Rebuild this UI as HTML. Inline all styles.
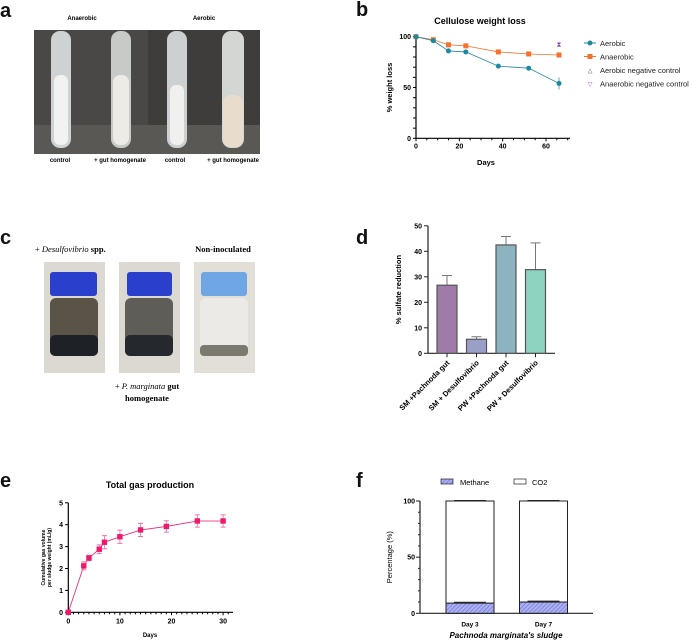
<!DOCTYPE html>
<html><head><meta charset="utf-8"><style>
body{margin:0;background:#fff;}
svg{display:block;font-family:"Liberation Sans",sans-serif;}
</style></head><body>
<svg id="fig" width="700" height="642" viewBox="0 0 700 642">
<defs>
<pattern id="hatch" width="3" height="3" patternUnits="userSpaceOnUse" patternTransform="rotate(45)">
<rect width="3" height="3" fill="#aab0f0"/><line x1="0" y1="0" x2="0" y2="3" stroke="#6a70d8" stroke-width="1.2"/></pattern>
</defs>
<g font-weight="bold" font-size="20" fill="#111">
<text x="0" y="17">a</text>
<text x="356" y="16">b</text>
<text x="0" y="244">c</text>
<text x="356" y="244">d</text>
<text x="0" y="487">e</text>
<text x="356" y="487">f</text>
</g>
<g>
<text x="82" y="20" font-size="6" font-weight="bold" text-anchor="middle">Anaerobic</text>
<text x="204" y="20" font-size="6" font-weight="bold" text-anchor="middle">Aerobic</text>
<rect x="34" y="30" width="114" height="124" fill="#4a4846"/>
<rect x="148" y="30" width="112" height="124" fill="#3e3d3b"/>
<rect x="34" y="125" width="226" height="29" fill="#5a5855"/>
<rect x="51" y="31" width="20" height="117" rx="9" fill="#cfd2d2"/>
<rect x="54" y="75" width="14" height="70" rx="6" fill="#f2f2f0"/>
<rect x="111" y="31" width="20" height="117" rx="9" fill="#c8cac8"/>
<rect x="113" y="75" width="16" height="70" rx="7" fill="#ecebe6"/>
<rect x="167" y="31" width="20" height="117" rx="9" fill="#cdd0d0"/>
<rect x="170" y="85" width="14" height="60" rx="6" fill="#f0f0ee"/>
<rect x="222" y="31" width="22" height="117" rx="9" fill="#d4d6d4"/>
<rect x="223" y="95" width="20" height="52" rx="8" fill="#e8ddcc"/>
<g font-size="6" font-weight="bold" text-anchor="middle">
<text x="60" y="162">control</text>
<text x="120" y="162">+ gut homogenate</text>
<text x="175" y="162">control</text>
<text x="233" y="162">+ gut homogenate</text>
</g></g>
<g font-family="'Liberation Serif',serif" font-size="8.5">
<text x="35" y="252">+ <tspan font-style="italic">Desulfovibrio</tspan> <tspan font-weight="bold">spp.</tspan></text>
<text x="223" y="252" text-anchor="middle" font-weight="bold">Non-inoculated</text>
<text x="147" y="389" text-anchor="middle">+ <tspan font-style="italic">P. marginata</tspan> <tspan font-weight="bold">gut</tspan></text>
<text x="147" y="401" text-anchor="middle" font-weight="bold">homogenate</text>
<g><rect x="44" y="262" width="61" height="111" fill="#dcd8d2"/><rect x="50" y="298" width="48" height="58" rx="6" fill="#5a5448"/><rect x="50" y="335" width="48" height="21" rx="5" fill="#1e2226"/><rect x="50" y="272" width="47" height="24" rx="3" fill="#2a3fcc"/></g>
<g><rect x="119" y="262" width="61" height="111" fill="#dcd8d2"/><rect x="125" y="298" width="48" height="58" rx="6" fill="#5f5d58"/><rect x="125" y="335" width="48" height="21" rx="5" fill="#25282c"/><rect x="127" y="272" width="45" height="24" rx="3" fill="#2a3fcc"/></g>
<g><rect x="194" y="262" width="61" height="111" fill="#e2ded8"/><rect x="200" y="298" width="48" height="58" rx="6" fill="#eceae6"/><rect x="200" y="345" width="48" height="11" rx="4" fill="#7a7a6e"/><rect x="201" y="272" width="46" height="24" rx="3" fill="#6fa6e4"/></g>
</g>
<g id="b"></g>
<g id="d"></g>
<g id="e"></g>
<g id="f"></g>
</svg>
<script>
const NS="http://www.w3.org/2000/svg";
function mk(p,t,a,txt){const e=document.createElementNS(NS,t);for(const k in a)e.setAttribute(k,a[k]);if(txt!==undefined)e.textContent=txt;p.appendChild(e);return e;}
const bDays=[0,8,15,23,38,52,66];
const bAerobic=[100,96,86,85,71,69,54];
const bAerobicErr=[0,1,1,1,1,1,6];
const bAnaerobic=[100,97,92,91,85,83,82];
const bAnaerobicErr=[0,1,1,1,1,1,2];
const bControlDay=66;
const bControlVal=[93,93];
const bXTicks=[0,20,40,60];
const bYTicks=[0,50,100];
const dCats=["SM +Pachnoda gut","SM + Desulfovibrio","PW +Pachnoda gut","PW + Desulfovibrio"];
const dVals=[26.7,5.5,42.5,32.8];
const dErr=[3.8,1.0,3.3,10.5];
const dYTicks=[0,10,20,30,40,50];
const eDays=[0,3,4,6,7,10,14,19,25,30];
const eVals=[0,2.12,2.48,2.88,3.2,3.45,3.76,3.92,4.17,4.17];
const eErr=[0,0.18,0.12,0.2,0.3,0.3,0.3,0.26,0.28,0.28];
const eXTicks=[0,10,20,30];
const eYTicks=[0,1,2,3,4,5];
const fCats=["Day 3","Day 7"];
const fMethane=[9,10];
const fCO2=[91,90];
const fYTicks=[0,50,100];

(function(){
const g=document.getElementById('b');
const x=d=>416+d*2.167, y=v=>138.3-v*1.016;
mk(g,'text',{x:480,y:24,'font-size':9,'font-weight':'bold','text-anchor':'middle'},'Cellulose weight loss');
mk(g,'line',{x1:416,y1:y(100),x2:416,y2:y(0),stroke:'#000','stroke-width':1.2});
mk(g,'line',{x1:416,y1:y(0),x2:570,y2:y(0),stroke:'#000','stroke-width':1.2});
for(let d=0;d<=70;d+=5){mk(g,'line',{x1:x(d),y1:y(0),x2:x(d),y2:y(0)+(d%20==0?3:2),stroke:'#000'});}
for(let v=0;v<=100;v+=10){mk(g,'line',{x1:416,y1:y(v),x2:413,y2:y(v),stroke:'#000'});}
bXTicks.forEach(t=>{const e=mk(g,'text',{x:x(t),y:y(0)+10,'font-size':7,'font-weight':'bold','text-anchor':'middle'},t);});
bYTicks.forEach(t=>{const e=mk(g,'text',{x:411,y:y(t)+2.5,'font-size':7,'font-weight':'bold','text-anchor':'end'},t);});
mk(g,'text',{x:486,y:165,'font-size':7.5,'font-weight':'bold','text-anchor':'middle'},'Days');
mk(g,'text',{x:392,y:y(50),'font-size':7.5,'font-weight':'bold','text-anchor':'middle',transform:`rotate(-90 392 ${y(50)})`},'% weight loss');
function series(vals,err,col,sq,name){
 mk(g,'polyline',{points:bDays.map((d,i)=>x(d)+','+y(vals[i])).join(' '),fill:'none',stroke:col,'stroke-width':0.8});
 bDays.forEach((d,i)=>{ if(err[i]>1){mk(g,'line',{x1:x(d),y1:y(vals[i]+err[i]),x2:x(d),y2:y(vals[i]-err[i]),stroke:col,'stroke-width':0.7});}
  const m=sq?mk(g,'rect',{x:x(d)-2.5,y:y(vals[i])-2.5,width:5,height:5,fill:col}):mk(g,'circle',{cx:x(d),cy:y(vals[i]),r:2.5,fill:col});
  });
}
series(bAnaerobic,bAnaerobicErr,'#f6712a',true,'anaerobic');
series(bAerobic,bAerobicErr,'#1b8a9e',false,'aerobic');
mk(g,'text',{x:x(bControlDay),y:y(bControlVal[0])+2.5,'font-size':7,fill:'#8a3fb0','text-anchor':'middle'},'⧗');
const leg=[['Aerobic','#1b8a9e','c'],['Anaerobic','#f6712a','s'],['Aerobic negative control','#555','t'],['Anaerobic negative control','#a050d0','v']];
leg.forEach((l,i)=>{const yy=43+i*13.5;const lg=mk(g,'g',{});
 if(l[2]=='c'||l[2]=='s'){mk(lg,'line',{x1:584,y1:yy,x2:596,y2:yy,stroke:l[1]});}
 if(l[2]=='c')mk(lg,'circle',{cx:590,cy:yy,r:2.5,fill:l[1]});
 if(l[2]=='s')mk(lg,'rect',{x:587.5,y:yy-2.5,width:5,height:5,fill:l[1]});
 if(l[2]=='t')mk(lg,'text',{x:590,y:yy+2.5,'font-size':6,fill:l[1],'text-anchor':'middle'},'△');
 if(l[2]=='v')mk(lg,'text',{x:590,y:yy+2.5,'font-size':6,fill:l[1],'text-anchor':'middle'},'▽');
 mk(lg,'text',{x:600,y:yy+3,'font-size':7.5,fill:'#222'},l[0]);});
})();
(function(){
const g=document.getElementById('d');
const y=v=>353.3-v*2.55, xc=i=>447+i*29.5;
const cols=['#a07aa8','#9a9fc8','#8db3c0','#8dd3c0'];
mk(g,'line',{x1:428,y1:y(50),x2:428,y2:y(0),stroke:'#222','stroke-width':1.2});
mk(g,'line',{x1:428,y1:y(0),x2:555,y2:y(0),stroke:'#222','stroke-width':1.2});
dYTicks.forEach(t=>{mk(g,'line',{x1:428,y1:y(t),x2:424,y2:y(t),stroke:'#222'});
 const e=mk(g,'text',{x:422,y:y(t)+2.5,'font-size':7,'font-weight':'bold','text-anchor':'end'},t);});
mk(g,'text',{x:401,y:y(25),'font-size':7.5,'font-weight':'bold','text-anchor':'middle',transform:`rotate(-90 401 ${y(25)})`},'% sulfate reduction');
dCats.forEach((c,i)=>{
 mk(g,'line',{x1:xc(i),y1:y(dVals[i]),x2:xc(i),y2:y(dVals[i]+dErr[i]),stroke:'#777'});
 mk(g,'line',{x1:xc(i)-5,y1:y(dVals[i]+dErr[i]),x2:xc(i)+5,y2:y(dVals[i]+dErr[i]),stroke:'#777'});
 const r=mk(g,'rect',{x:xc(i)-10,y:y(dVals[i]),width:20,height:y(0)-y(dVals[i]),fill:cols[i],stroke:'#555','stroke-width':1.2});
 
 mk(g,'line',{x1:xc(i),y1:y(0),x2:xc(i),y2:y(0)+4,stroke:'#222'});
 const t=mk(g,'text',{x:xc(i)+3,y:y(0)+10,'font-size':7.5,'font-weight':'bold','text-anchor':'end',transform:`rotate(-45 ${xc(i)+3} ${y(0)+10})`},c);
 });
})();
(function(){
const g=document.getElementById('e');
const x=d=>68.3+d*5.16, y=v=>612.3-v*21.9, col='#f0186c';
mk(g,'text',{x:150,y:488,'font-size':9,'font-weight':'bold','text-anchor':'middle'},'Total gas production');
mk(g,'line',{x1:68.3,y1:y(5),x2:68.3,y2:y(0),stroke:'#000','stroke-width':1.2});
mk(g,'line',{x1:68.3,y1:y(0),x2:233,y2:y(0),stroke:'#000','stroke-width':1.2});
for(let d=0;d<=31;d++){mk(g,'line',{x1:x(d),y1:y(0),x2:x(d),y2:y(0)+(d%10==0?3:2),stroke:'#000'});}
eXTicks.forEach(t=>{const e=mk(g,'text',{x:x(t),y:y(0)+11,'font-size':7,'font-weight':'bold','text-anchor':'middle'},t);});
eYTicks.forEach(t=>{mk(g,'line',{x1:68.3,y1:y(t),x2:65,y2:y(t),stroke:'#000'});const e=mk(g,'text',{x:63,y:y(t)+2.5,'font-size':7,'font-weight':'bold','text-anchor':'end'},t);});
mk(g,'text',{x:150,y:637,'font-size':6,'font-weight':'bold','text-anchor':'middle'},'Days');
mk(g,'text',{x:45,y:y(2.5),'font-size':5,'font-weight':'bold','text-anchor':'middle',transform:`rotate(-90 45 ${y(2.5)})`},'Cumulative gas volume');
mk(g,'text',{x:51,y:y(2.5),'font-size':5,'font-weight':'bold','text-anchor':'middle',transform:`rotate(-90 51 ${y(2.5)})`},'per sludge weight (mL/g)');
mk(g,'polyline',{points:eDays.map((d,i)=>x(d)+','+y(eVals[i])).join(' '),fill:'none',stroke:col,'stroke-width':0.8});
eDays.forEach((d,i)=>{ if(eErr[i]>0){mk(g,'line',{x1:x(d),y1:y(eVals[i]+eErr[i]),x2:x(d),y2:y(eVals[i]-eErr[i]),stroke:'#f070a0','stroke-width':0.8});
 mk(g,'line',{x1:x(d)-2.5,y1:y(eVals[i]+eErr[i]),x2:x(d)+2.5,y2:y(eVals[i]+eErr[i]),stroke:'#f070a0'});
 mk(g,'line',{x1:x(d)-2.5,y1:y(eVals[i]-eErr[i]),x2:x(d)+2.5,y2:y(eVals[i]-eErr[i]),stroke:'#f070a0'});}
 const m=mk(g,'rect',{x:x(d)-2.7,y:y(eVals[i])-2.7,width:5.4,height:5.4,fill:col});
 });
})();
(function(){
const g=document.getElementById('f');
const y=v=>613.3-v*1.123, xl=i=>446+i*73.5, w=48;
const lg1=mk(g,'g',{});
mk(lg1,'rect',{x:441,y:479,width:12,height:5,fill:'url(#hatch)',stroke:'#222','stroke-width':0.7});
mk(lg1,'text',{x:460,y:485,'font-size':7.5},'Methane');
const lg2=mk(g,'g',{});
mk(lg2,'rect',{x:514,y:479,width:12,height:5,fill:'#fff',stroke:'#222','stroke-width':0.7});
mk(lg2,'text',{x:532,y:485,'font-size':7.5},'CO2');
mk(g,'line',{x1:420,y1:y(100),x2:420,y2:y(0),stroke:'#222','stroke-width':1.2});
mk(g,'line',{x1:420,y1:y(0),x2:593,y2:y(0),stroke:'#222','stroke-width':1.2});
for(let v=0;v<=100;v+=10){mk(g,'line',{x1:420,y1:y(v),x2:v%50==0?416:418,y2:y(v),stroke:'#222'});}
fYTicks.forEach(t=>{const e=mk(g,'text',{x:415,y:y(t)+2.5,'font-size':7,'font-weight':'bold','text-anchor':'end'},t);});
mk(g,'text',{x:392,y:y(50),'font-size':7.5,'text-anchor':'middle',transform:`rotate(-90 392 ${y(50)})`},'Percentage (%)');
mk(g,'text',{x:506,y:638,'font-size':8,'font-weight':'bold','font-style':'italic','text-anchor':'middle'},"Pachnoda marginata's sludge");
fCats.forEach((c,i)=>{
 const top=fMethane[i]+fCO2[i];
 const r2=mk(g,'rect',{x:xl(i),y:y(top),width:w,height:y(fMethane[i])-y(top),fill:'#fff',stroke:'#222','stroke-width':1});
 
 const r1=mk(g,'rect',{x:xl(i),y:y(fMethane[i]),width:w,height:y(0)-y(fMethane[i]),fill:'url(#hatch)',stroke:'#222','stroke-width':1});
 
 mk(g,'line',{x1:xl(i)+8,y1:y(top)-0.5,x2:xl(i)+w-8,y2:y(top)-0.5,stroke:'#222'});
 mk(g,'line',{x1:xl(i)+8,y1:y(fMethane[i])-1,x2:xl(i)+w-8,y2:y(fMethane[i])-1,stroke:'#222'});
 const t=mk(g,'text',{x:xl(i)+w/2,y:y(0)+13,'font-size':6.5,'font-weight':'bold','text-anchor':'middle'},c);
 });
})();
</script>
</body></html>
